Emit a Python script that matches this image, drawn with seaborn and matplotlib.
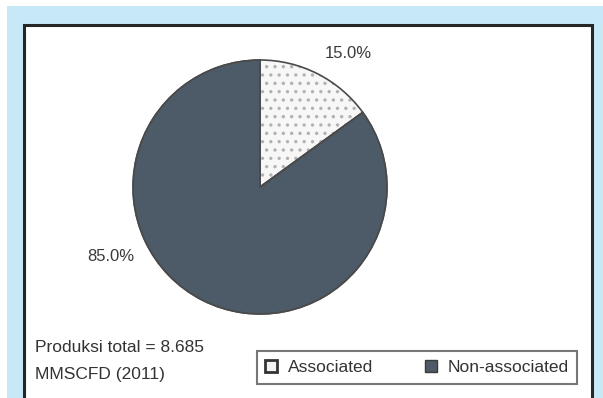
import matplotlib
matplotlib.use("Agg")
import matplotlib.pyplot as plt
from matplotlib.patches import Rectangle, Patch
import numpy as np
import seaborn as sns

categories = ["Associated", "Non-associated"]
shares = [15.0, 85.0]
note_lines = ["Produksi total = 8.685", "MMSCFD (2011)"]

sns.set_theme(style="white")
plt.rcParams["font.family"] = ["Liberation Sans", "DejaVu Sans"]
plt.rcParams["hatch.linewidth"] = 1.2

W, H = 603, 398
fig = plt.figure(figsize=(W / 100, H / 100), dpi=100, facecolor="white")

def fx(px):
    return px / W

def fy(py):
    return 1 - py / H

# light blue frame and white inner panel
fig.patches.append(Rectangle((fx(7), -0.01), 1.0, fy(6) + 0.01, transform=fig.transFigure,
                             facecolor="#c6e8f7", edgecolor="none", zorder=-2))
fig.patches.append(Rectangle((fx(24), -0.02), fx(592) - fx(24), fy(25) + 0.02,
                             transform=fig.transFigure, facecolor="white",
                             edgecolor="#262626", linewidth=2.2, zorder=-1))

# pie axes: centre (260, 187), radius 127 px
cx, cy, r = 260, 187, 127
ax = fig.add_axes([fx(cx - r), fy(cy + r), fx(2 * r), (2 * r) / H])
ax.set_zorder(3)
ax.patch.set_visible(False)
ax.set_axis_off()
colors = ["#f7f7f7", "#4c5b67"]
wedges, _ = ax.pie(shares, colors=colors, startangle=90, counterclock=False, radius=1,
                   wedgeprops=dict(edgecolor="#4a4a4a", linewidth=1.0))
# light dotted fill for the associated wedge (hatch takes the edge colour)
wedges[0].set_hatch("..")
wedges[0].set_edgecolor("#b2b2b2")
wedges[0].set_linewidth(0)
# outline drawn over the hatched wedge
ax.pie(shares, colors=["none", "none"], startangle=90, counterclock=False,
       radius=1, wedgeprops=dict(edgecolor="#4a4a4a", linewidth=1.2, fill=False))
ax.set_xlim(-1, 1)
ax.set_ylim(-1, 1)

label_pos = {"Associated": (1.256, 56.5), "Non-associated": (1.296, 205.0)}
for cat, val in zip(categories, shares):
    rr, ang = label_pos[cat]
    a = np.deg2rad(ang)
    ax.text(rr * np.cos(a), rr * np.sin(a), f"{val:.1f}%", ha="center", va="center",
            fontsize=12, color="#3a3a3a", clip_on=False)

# production note
fig.text(fx(35), fy(348), note_lines[0], ha="left", va="center", fontsize=12.5, color="#333333")
fig.text(fx(35), fy(374), note_lines[1], ha="left", va="center", fontsize=12.5, color="#333333")

handles = [Patch(facecolor="#f2f2f2", edgecolor="#333333", linewidth=2.0),
           Patch(facecolor="#4c5b67", edgecolor="#3a3a3a", linewidth=1.0)]
leg = fig.legend(handles, categories, loc="center", ncol=2,
                 bbox_to_anchor=(fx(417), fy(367.5)), frameon=True, fancybox=False,
                 edgecolor="#555555", fontsize=12.5, handlelength=0.7, handleheight=0.7,
                 handletextpad=0.6, columnspacing=3.0, borderpad=0.5, borderaxespad=0,
                 labelcolor="#333333")
leg.get_frame().set_linewidth(1.5)
leg.set_zorder(5)

fig.savefig("out.png", dpi=100, facecolor="white")
